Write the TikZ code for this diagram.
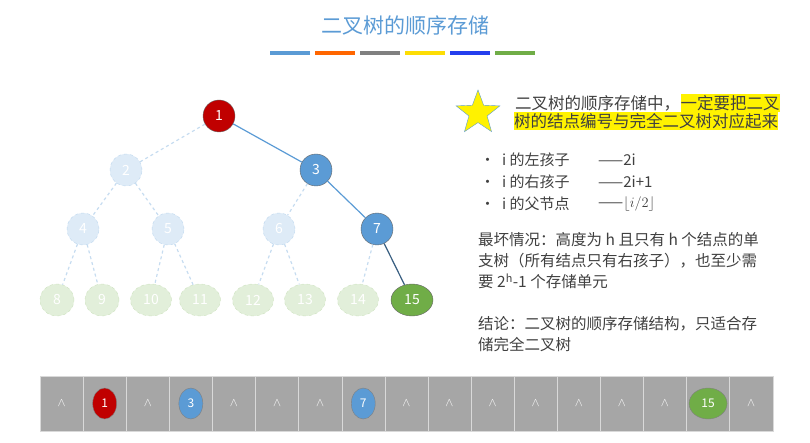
\documentclass[tikz,border=0pt]{standalone}
\usepackage{fontspec}
\setmainfont{Noto Sans CJK SC}
\usetikzlibrary{calc,shapes.geometric,positioning}
\definecolor{rootred}{HTML}{C00000}
\definecolor{nblue}{HTML}{5B9BD5}
\definecolor{ngreen}{HTML}{70AD47}
\definecolor{fblue}{HTML}{DEEBF7}
\definecolor{fgreen}{HTML}{E2EFDA}
\definecolor{cellgray}{HTML}{A6A6A6}
\definecolor{txtgray}{HTML}{404040}
\tikzset{
  nd/.style={circle,minimum size=32pt,inner sep=0pt,text=white,font=\fontsize{14}{14}\selectfont},
  real/.style={nd,draw=black!60},
  ghost/.style={nd,draw=nblue!40,dashed,fill=fblue},
  leaf/.style={ellipse,minimum width=41pt,minimum height=32pt,inner sep=0pt,text=white,
    font=\fontsize{14}{14}\selectfont,draw=ngreen!35,dashed,fill=fgreen},
  edge/.style={nblue,line width=1.2pt},
  gedge/.style={nblue!35,dashed,line width=1.2pt},
  cell/.style={draw=white!85!black,fill=cellgray,minimum width=43.1pt,minimum height=55pt,
    inner sep=0pt,text=white,font=\bfseries\fontsize{13}{13}\selectfont},
  mini/.style={ellipse,minimum width=24pt,minimum height=31pt,inner sep=0pt,text=white,
    draw=black!50,font=\fontsize{12}{12}\selectfont},
  txt/.style={anchor=west,inner sep=0pt,text=txtgray,font=\fontsize{15}{15}\selectfont},
}
\begin{document}
\begin{tikzpicture}[x=1pt,y=-1pt]
  \useasboundingbox (0,0) rectangle (810,443);
  %% Title and colour bar
  \node[text=nblue,font=\fontsize{21}{21}\selectfont] (title) at (405,26) {二叉树的顺序存储};
  \foreach \c [count=\i] in {nblue,orange!80!red,gray,yellow!80!orange,blue!60!nblue,ngreen}
    \fill[\c] ({270+(\i-1)*45},51) rectangle ++(40,4);

  %% Tree
  \node[real,fill=rootred] (N1) at (219,116) {1};
  \node[ghost] (N2) at (126,170) {2};
  \node[real,fill=nblue] (N3) at (316,170) {3};
  \node[ghost] (N4) at (83,229) {4};
  \node[ghost] (N5) at (168,229) {5};
  \node[ghost] (N6) at (279,229) {6};
  \node[real,fill=nblue] (N7) at (377,229) {7};
  \foreach \n/\x/\w in {8/57/34,9/102/34,10/151/41,11/200/41,12/253/41,13/305/41,14/358/41}
    \node[leaf,minimum width=\w pt] (N\n) at (\x,300) {\n};
  \node[leaf,solid,draw=black!60,fill=ngreen,minimum width=42pt] (N15) at (412,300) {15};
  \foreach \a/\b in {1/2,2/4,2/5,3/6,4/8,4/9,5/10,5/11,6/12,6/13,7/14}
    \draw[gedge] (N\a) -- (N\b);
  \draw[edge] (N1) -- (N3);
  \draw[edge] (N3) -- (N7);
  \draw[edge,nblue!60!black] (N7) -- (N15);

  %% Storage array
  \foreach \i in {1,...,17}
    \node[cell] (C\i) at ({40+(\i-0.5)*43.1},403.5) {$\wedge$};
  \node[mini,fill=rootred] (A1) at (C2) {1};
  \node[mini,fill=nblue] (A3) at (C4) {3};
  \node[mini,fill=nblue] (A7) at (C8) {7};
  \node[mini,fill=ngreen,minimum width=38pt] (A15) at (C16) {15};

  %% Notes
  \node[star,star points=5,star point ratio=2.4,draw=nblue,fill=yellow,minimum size=46pt,inner sep=0pt] (star) at (478,113) {};
  \node[txt,font=\fontsize{16.5}{16.5}\selectfont] (h1) at (515,103) {二叉树的顺序存储中，};
  \node[txt,font=\fontsize{16.5}{16.5}\selectfont,fill=yellow,inner ysep=1.5pt,right=0pt of h1] (h2) {一定要把二叉};
  \node[txt,font=\fontsize{16.5}{16.5}\selectfont,fill=yellow,inner ysep=1.5pt] (h3) at (514,121) {树的结点编号与完全二叉树对应起来};
  \node[txt] (b1) at (480,160) {•\hspace{7pt}i 的左孩子};
  \node[txt] (b2) at (480,182) {•\hspace{7pt}i 的右孩子};
  \node[txt] (b3) at (480,204) {•\hspace{7pt}i 的父节点};
  \node[txt] (r1) at (598,160) {——2i};
  \node[txt] (r2) at (598,182) {——2i+1};
  \node[txt] (r3) at (598,204) {——$\lfloor i/2\rfloor$};
  \node[txt,anchor=north west,align=left,font=\fontsize{15.5}{21}\selectfont] (worst) at (478,232)
    {最坏情况：高度为 h 且只有 h 个结点的单\\支树（所有结点只有右孩子），也至少需\\要 2\textsuperscript{h}-1 个存储单元};
  \node[txt,anchor=north west,align=left,font=\fontsize{15.5}{21}\selectfont] (concl) at (478,316)
    {结论：二叉树的顺序存储结构，只适合存\\储完全二叉树};
\end{tikzpicture}
\end{document}
